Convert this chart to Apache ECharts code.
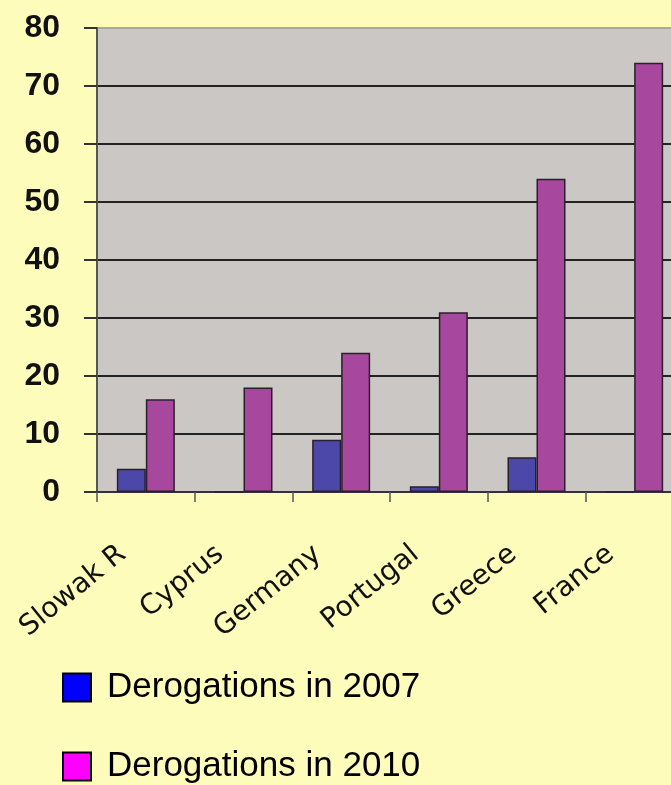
<!DOCTYPE html>
<html>
<head>
<meta charset="utf-8">
<title>Derogations 2007 / 2010</title>
<script src="https://cdn.jsdelivr.net/npm/echarts@6/dist/echarts.min.js"></script>
<style>
  html, body { margin: 0; padding: 0; background: #FEFCBA; }
  #chart { width: 671px; height: 785px; }
</style>
</head>
<body>
<div id="chart"></div>
<script>
// data
const countries = ['Slowak R', 'Cyprus', 'Germany', 'Portugal', 'Greece', 'France'];
const derog2007 = [4, 0, 9, 1, 6, 0];
const derog2010 = [16, 18, 24, 31, 54, 74];
const seriesNames = ['Derogations in 2007', 'Derogations in 2010'];
const legendColors = ['#0000FF', '#FF00FF'];
const yTicks = { min: 0, max: 80, step: 10 };

const chart = echarts.init(document.getElementById('chart'));
const LABEL_FONT = "'Liberation Sans', Arial, sans-serif";

const barBorder = { borderColor: '#2b1f2b', borderWidth: 1.5 };

// black grid lines, the top one (80) is the pale plot border
const gridColors = [];
for (let v = yTicks.min; v <= yTicks.max; v += yTicks.step) {
  gridColors.push(v === yTicks.max ? '#A9A6A3' : '#222');
}

// one legend box per entry so they stack like the slide
const legends = seriesNames.map((name, i) => ({
  left: 62, top: 670 + i * 79,
  padding: 0,
  itemWidth: 28, itemHeight: 28,
  icon: 'rect',
  textStyle: {
    fontFamily: LABEL_FONT, fontSize: 35,
    color: '#000', padding: [0, 0, 0, 11]
  },
  data: [{ name, itemStyle: { color: legendColors[i], borderColor: '#000', borderWidth: 2 } }]
}));

chart.setOption({
  backgroundColor: '#FEFCBA',
  animation: false,
  grid: {
    left: 97, top: 28, width: 586, height: 464,
    outerBoundsMode: 'none',
    show: true,
    backgroundColor: '#CAC7C4',
    borderColor: '#A9A6A3',
    borderWidth: 1
  },
  legend: legends,
  xAxis: {
    type: 'category',
    data: countries,
    boundaryGap: true,
    axisLine: { show: true, lineStyle: { color: '#333', width: 2 } },
    axisTick: { show: true, length: 10, lineStyle: { color: '#555', width: 1.5 } },
    axisLabel: {
      interval: 0,
      rotate: 39,
      margin: 40,
      padding: [0, 30, 0, 0],
      color: '#111',
      fontFamily: "'DejaVu Sans', Verdana, sans-serif",
      fontSize: 28
    }
  },
  yAxis: {
    type: 'value',
    min: yTicks.min, max: yTicks.max, interval: yTicks.step,
    axisLine: { show: true, lineStyle: { color: '#555', width: 2 } },
    axisTick: { show: true, length: 13, lineStyle: { color: '#333', width: 2 } },
    axisLabel: {
      margin: 37,
      color: '#111',
      fontFamily: LABEL_FONT,
      fontWeight: 'bold',
      fontSize: 32
    },
    splitLine: { show: true, lineStyle: { color: gridColors, width: 2 } }
  },
  series: [
    {
      name: seriesNames[0],
      type: 'bar',
      data: derog2007,
      barWidth: 29,
      barGap: '0%',
      itemStyle: Object.assign({ color: '#4B48AA' }, barBorder)
    },
    {
      name: seriesNames[1],
      type: 'bar',
      data: derog2010,
      barWidth: 29,
      barGap: '0%',
      itemStyle: Object.assign({ color: '#A8479E' }, barBorder)
    }
  ]
});
</script>
</body>
</html>
